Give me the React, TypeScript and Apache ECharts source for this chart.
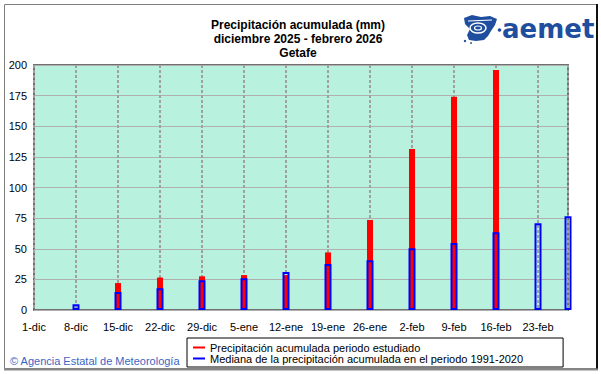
import React, { useEffect, useRef } from 'react';
import * as echarts from 'echarts';

// Days since 1 December 2025 for each weekly reading (last = 28 Feb)
const dayOffsets = [0, 7, 14, 21, 28, 35, 42, 49, 56, 63, 70, 77, 84, 89];
const tickLabels = ['1-dic', '8-dic', '15-dic', '22-dic', '29-dic', '5-ene', '12-ene', '19-ene', '26-ene', '2-feb', '9-feb', '16-feb', '23-feb'];
// Accumulated precipitation of the studied period (mm)
const accumulated: (number | null)[] = [0, 0, 22, 26.5, 27.5, 28.5, 28.5, 47, 73.5, 131.5, 174, 196, null, null];
// Median accumulated precipitation 1991-2020 (mm)
const median: (number | null)[] = [null, 4.6, 14.7, 17.7, 24.2, 25.9, 31, 37.6, 40.6, 50.4, 54.7, 63.4, 70.8, 76.5];

const titleLines = ['Precipitación acumulada (mm)', 'diciembre 2025 - febrero 2026', 'Getafe'];
const legendNames = ['Precipitación acumulada periodo estudiado', 'Mediana de la precipitación acumulada en el periodo 1991-2020'];

const FONT = '"Liberation Sans", Arial, sans-serif';

export default function App() {
  const ref = useRef<HTMLDivElement>(null);
  useEffect(() => {
    if (!ref.current) return;
    const chart = echarts.init(ref.current, undefined, { renderer: 'svg' });
    const redData = dayOffsets
      .map((d, i) => [d, accumulated[i]])
      .filter((p) => p[1] !== null);
    const blueData = dayOffsets
      .map((d, i) => [d, median[i]])
      .filter((p) => p[1] !== null);

    const xAxisBase = {
      type: 'value' as const,
      min: 0,
      max: 89,
      interval: 7,
      axisLine: { show: false },
      axisTick: { show: false },
    };

    chart.setOption({
      animation: false,
      backgroundColor: '#ffffff',
      textStyle: { fontFamily: FONT },
      grid: {
        left: 34,
        right: 33,
        top: 65,
        bottom: 64,
        show: true,
        backgroundColor: '#b8f2de',
        borderColor: '#707070',
        borderWidth: 2,
      },
      xAxis: [
        {
          ...xAxisBase,
          axisLabel: {
            color: '#000',
            fontSize: 11,
            margin: 11,
            fontFamily: FONT,
            formatter: (v: number) => {
              const i = dayOffsets.indexOf(v);
              return i >= 0 && i < tickLabels.length ? tickLabels[i] : '';
            },
          },
          splitLine: {
            show: true,
            lineStyle: { color: '#a0a0a0', width: 2, type: [3, 2] },
          },
        },
        { ...xAxisBase, show: false, splitLine: { show: false } },
      ],
      yAxis: {
        type: 'value',
        min: 0,
        max: 200,
        interval: 25,
        axisLine: { show: false },
        axisTick: { show: false },
        axisLabel: { color: '#000', fontSize: 11, margin: 7, fontFamily: FONT },
        splitLine: { show: true, lineStyle: { color: '#b0b0b0', width: 1 } },
      },
      legend: {
        orient: 'vertical',
        left: 187,
        top: 338,
        padding: [4, 40, 3, 6],
        itemGap: 0,
        itemWidth: 12,
        itemHeight: 2,
        itemTextGap: 8,
        borderColor: '#000',
        borderWidth: 1,
        backgroundColor: '#fff',
        textStyle: { color: '#000', fontSize: 11, lineHeight: 11, fontFamily: FONT },
        data: [
          { name: legendNames[0], icon: 'rect', itemStyle: { color: '#ff0000', borderWidth: 0 } },
          { name: legendNames[1], icon: 'rect', itemStyle: { color: '#0000ff', borderWidth: 0 } },
        ],
      },
      series: [
        {
          name: legendNames[0],
          type: 'bar',
          xAxisIndex: 0,
          barWidth: 6,
          clip: false,
          itemStyle: { color: '#ff0000' },
          data: redData,
          z: 2,
        },
        {
          name: legendNames[1],
          type: 'bar',
          xAxisIndex: 1,
          barWidth: 7,
          clip: false,
          itemStyle: { color: 'rgba(0,0,0,0)', borderColor: '#0000ff', borderWidth: 2 },
          data: blueData,
          z: 3,
        },
      ],
      graphic: [
        // outer frame
        { type: 'rect', shape: { x: 4.5, y: 4.5, width: 592, height: 364 }, style: { fill: 'none', stroke: '#808080', lineWidth: 1 }, silent: true },
        { type: 'line', shape: { x1: 597, y1: 4, x2: 597, y2: 370 }, style: { stroke: '#111', lineWidth: 2 }, silent: true },
        { type: 'line', shape: { x1: 4, y1: 369.5, x2: 598, y2: 369.5 }, style: { stroke: '#888', lineWidth: 2 }, silent: true },
        // title
        ...titleLines.map((t, i) => ({
          type: 'text',
          x: 298,
          y: 25 + i * 14,
          silent: true,
          style: {
            text: t,
            fill: '#000',
            font: 'bold 12px ' + FONT,
            textAlign: 'center',
            textVerticalAlign: 'middle',
          },
        })),
        // logo icon
        {
          type: 'polygon',
          silent: true,
          shape: {
            points: [
              [464, 18], [472, 15], [481, 17], [490, 16], [497, 19], [495, 25], [491, 31],
              [488, 36], [484, 40], [476, 41], [469, 40], [467, 35], [470, 29], [465, 24],
            ],
          },
          style: { fill: '#1f4e9e' },
        },
        { type: 'ellipse', silent: true, shape: { cx: 478, cy: 28, rx: 8, ry: 5 }, style: { fill: 'none', stroke: '#fff', lineWidth: 1.5 } },
        { type: 'ellipse', silent: true, shape: { cx: 478, cy: 28, rx: 3.5, ry: 2 }, style: { fill: 'none', stroke: '#fff', lineWidth: 1.2 } },
        { type: 'line', silent: true, shape: { x1: 468, y1: 21, x2: 492, y2: 20 }, style: { stroke: '#fff', lineWidth: 1.2 } },
        { type: 'circle', silent: true, shape: { cx: 499.5, cy: 30, r: 1.8 }, style: { fill: '#1f4e9e' } },
        { type: 'circle', silent: true, shape: { cx: 465, cy: 41, r: 1.2 }, style: { fill: '#1f4e9e' } },
        { type: 'circle', silent: true, shape: { cx: 471, cy: 43, r: 0.9 }, style: { fill: '#1f4e9e' } },
        {
          type: 'text',
          x: 502,
          y: 29,
          silent: true,
          style: {
            text: 'aemet',
            fill: '#1f4e9e',
            font: 'bold 26px "DejaVu Sans", sans-serif',
            textAlign: 'left',
            textVerticalAlign: 'middle',
          },
        },
        // agency credit
        {
          type: 'text',
          x: 10,
          y: 361,
          silent: true,
          style: {
            text: '© Agencia Estatal de Meteorología',
            fill: '#3a66c4',
            font: '11px ' + FONT,
            textAlign: 'left',
            textVerticalAlign: 'middle',
          },
        },
      ],
    });
    return () => chart.dispose();
  }, []);
  return <div ref={ref} style={{ position: 'fixed', left: 0, top: 0, width: 601, height: 374 }} />;
}
